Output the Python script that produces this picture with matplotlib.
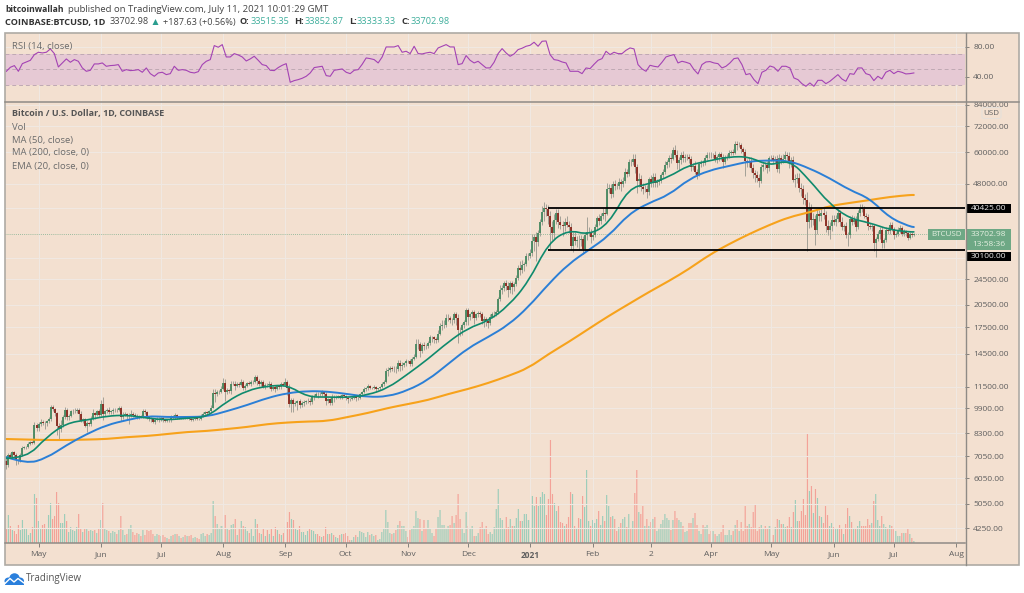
'''

BTCUSD daily chart with RSI pane, moving averages and volume

'''
import datetime as dt

import numpy as np
import matplotlib
matplotlib.use('Agg')
import matplotlib.pyplot as plt
import matplotlib.dates as mdates
from matplotlib.path import Path
from matplotlib.patches import Rectangle, FancyBboxPatch, Ellipse, Polygon, PathPatch
from matplotlib.ticker import FixedLocator, FixedFormatter, NullLocator

plt.rcParams['font.family'] = ['Open Sans', 'DejaVu Sans']

W, H = 1024, 593
BG = '#f3e0d0'
GRID = '#f0e8e2'
BORDER = '#aeaaa4'
TEXT = '#5f5f5f'
UP, DOWN = '#4a8a63', '#8a2a20'
VOL_UP, VOL_DOWN = '#9ccdba', '#f3a298'

START = dt.date(2020, 4, 15)

# daily closes, one row per month, Apr 15 2020 to Jul 11 2021
closes = [
    6630,7100,7040,7260,7130,6860,6840,7130,7490,7510,7540,7700,7790,7750,8780,8620,
    8830,8970,8900,8890,9030,9160,9990,9810,9540,8730,8570,8820,9310,9790,9320,9380,9670,9730,9730,9780,9510,9060,9170,8730,8900,8840,9200,9570,9430,9700,9440,
    10200,9520,9670,9790,9620,9670,9760,9780,9770,9890,9280,9460,9470,9340,9430,9520,9460,9380,9300,9360,9300,9680,9620,9290,9250,9160,9010,9120,9190,9140,
    9230,9090,9060,9130,9080,9340,9250,9430,9240,9290,9240,9300,9240,9260,9190,9130,9160,9210,9170,9160,9390,9520,9610,9540,9700,9930,11030,10910,11100,11110,11350,
    11800,11070,11230,11190,11740,11770,11600,11760,11680,11880,11400,11570,11780,11770,11860,11910,12290,11970,11730,11860,11520,11680,11650,11770,11330,11470,11330,11540,11480,11710,11650,
    11920,11400,10170,10470,10170,10260,10380,10130,10230,10340,10390,10440,10330,10680,10790,10950,10940,10930,11080,10920,10420,10530,10240,10740,10690,10730,10770,10690,10840,10780,
    10620,10570,10550,10670,10790,10600,10670,10920,11060,11300,11370,11540,11430,11430,11500,11320,11370,11510,11750,11920,12820,12990,13130,13040,13080,13040,13650,13280,13460,13560,13800,
    13760,13550,14020,14150,15590,15590,14830,15480,15330,15300,15700,16290,16340,16080,15970,16720,17660,17790,17820,18680,18710,18420,18370,19150,18730,17160,17130,17730,18190,19700,
    18770,19220,19430,18650,19150,19360,19170,18320,18540,18250,18030,18810,19160,19280,19440,21350,22830,23130,23860,23480,22730,23820,23240,23730,24710,26490,26280,27040,27360,28880,29000,
    29420,32200,33000,31990,33990,36810,39470,40670,40240,38240,35540,34010,37370,39150,36830,36020,35800,36630,35920,35500,31050,32970,32090,32290,32250,32510,30410,33420,34260,34310,33110,
    33540,35510,37660,36950,38290,39260,38870,46450,46530,44840,48000,47460,47400,48580,47930,49150,52130,51550,55950,55840,57420,54090,48890,49700,47040,46170,46430,45240,
    49600,48360,50470,48370,48760,48900,50970,52390,54930,55850,57800,57230,61180,59000,55650,56900,58920,57650,58030,58100,57370,54090,54340,52300,51300,55060,55840,55780,57620,58770,58740,
    58720,58970,57060,58200,59130,58020,55950,58080,58100,59770,60000,59860,63580,62960,63200,61400,60060,56250,55700,56500,53800,51700,51190,50100,49070,54030,55040,54880,53570,57700,
    57800,56570,57160,53200,57480,56410,57380,58860,58280,55860,56750,49500,49670,49920,46760,46430,43540,42850,36690,40530,37300,37500,34700,38800,38320,39240,38530,35660,34610,35660,37340,
    36690,37570,39190,36850,35530,35800,33570,33400,37390,36690,37340,35550,39020,40530,40160,38350,38090,35820,35490,35600,31600,32500,33690,34660,31590,32280,34700,34500,35910,35040,
    33550,33810,34680,35290,33700,34220,33880,32880,33810,33510,33703,
]
first_open = 6840

# wick lengths above and below the body, tenths of a percent
wick_up = [
    20,15,15,10,10,10,15,12,10,10,8,10,10,10,25,15,
    15,25,15,15,10,15,10,15,10,10,25,30,10,20,15,10,10,10,15,10,15,20,10,10,15,10,15,25,10,10,15,
    30,50,10,15,20,10,15,10,10,15,15,20,15,10,15,25,10,10,15,10,10,20,20,10,10,5,10,10,10,10,
    10,10,8,8,8,12,8,12,8,8,8,8,8,8,8,5,5,8,5,5,15,10,10,10,10,20,30,30,15,15,20,
    40,30,15,10,20,15,15,15,10,20,15,15,10,15,20,10,20,15,15,15,15,15,10,15,10,10,15,12,10,15,15,
    30,10,30,15,15,15,10,15,15,15,10,15,15,15,15,15,15,15,15,10,15,10,10,15,10,10,10,10,10,10,
    10,10,8,8,10,8,8,12,10,15,8,15,10,8,10,8,5,8,15,15,25,15,15,15,15,15,20,15,20,10,15,
    10,15,15,25,30,30,15,15,20,15,10,20,10,10,15,25,20,35,30,25,30,15,15,20,15,25,20,15,15,20,
    15,10,15,15,10,15,15,15,20,15,15,20,15,15,15,15,35,20,15,20,25,15,15,15,25,25,50,40,15,25,15,
    30,50,20,40,20,20,40,40,25,30,40,40,40,30,25,40,25,30,45,30,30,35,40,30,35,30,25,25,110,30,20,
    20,20,20,30,20,30,30,40,30,30,20,25,20,30,25,25,30,20,20,25,30,35,20,40,30,30,25,25,
    20,30,30,30,20,20,20,20,30,20,20,30,20,30,30,20,20,30,20,20,20,20,25,40,20,20,20,20,20,20,20,
    20,15,30,15,15,20,25,15,20,20,15,20,20,25,20,15,15,20,20,25,25,25,25,30,25,25,15,20,25,15,
    15,20,20,30,30,25,30,30,20,30,25,30,35,40,40,35,25,30,60,45,30,40,30,40,30,30,40,30,45,30,30,
    30,25,25,20,30,15,25,20,25,30,25,25,25,30,25,20,20,20,20,15,15,20,25,25,25,20,25,25,25,20,
    15,15,20,20,15,20,15,10,15,15,10,
]
wick_down = [
    30,10,10,10,30,30,20,10,10,8,8,8,10,10,5,20,
    20,10,15,40,15,10,10,10,15,60,70,20,15,15,20,20,10,15,15,15,40,10,15,10,40,10,15,10,30,10,15,
    10,40,15,10,15,10,20,10,15,10,25,10,10,25,50,15,15,10,15,15,10,10,10,15,25,20,10,20,10,15,
    10,12,8,8,10,8,10,8,10,10,5,8,8,8,8,10,8,8,8,5,8,8,10,10,8,10,5,55,15,15,10,
    10,60,10,15,20,10,30,10,15,10,15,15,10,10,15,10,10,25,15,15,10,15,15,20,15,10,20,10,15,10,10,
    10,50,20,50,50,15,50,20,15,15,15,10,20,10,15,10,25,10,10,20,30,15,10,10,30,10,10,10,10,10,
    15,30,10,8,8,15,10,10,15,5,8,10,10,8,10,20,5,8,8,15,8,30,15,15,20,30,15,35,25,20,15,
    10,15,15,10,5,40,40,15,25,20,15,15,30,25,20,15,10,30,20,15,20,20,30,15,50,90,40,30,15,20,
    50,20,25,40,15,15,20,25,45,30,35,15,10,15,15,10,15,30,20,30,45,20,50,30,15,15,40,25,35,15,30,
    20,15,70,130,30,20,20,60,50,50,145,50,40,30,45,30,70,40,15,40,30,45,30,40,60,40,35,15,30,30,40,
    20,15,20,30,20,20,50,10,30,30,20,30,20,20,45,20,15,20,15,25,20,40,80,40,30,30,20,40,
    20,30,25,30,30,20,15,20,15,20,30,30,10,15,40,50,30,30,25,20,30,30,20,15,30,10,15,20,15,15,20,
    15,15,20,25,30,20,40,15,20,10,15,20,10,30,10,30,25,95,30,30,30,30,50,30,40,15,25,25,30,20,
    25,20,15,20,25,20,15,20,25,40,30,20,50,25,30,50,45,35,182,40,50,35,100,30,35,35,25,40,30,60,30,
    20,25,20,30,20,30,20,70,20,20,15,30,20,15,20,15,15,30,15,30,50,90,15,30,30,35,15,20,20,15,
    30,15,15,20,15,15,15,15,10,15,5,
]

# daily volume, thousand BTC
volumes = [
    15,28,17,13,12,9,18,13,23,14,15,8,10,16,49,45,
    22,15,18,19,14,28,40,24,27,51,40,20,20,29,22,11,16,13,12,16,29,15,11,14,14,12,13,12,13,10,14,
    23,40,14,13,12,10,12,11,9,13,27,13,8,9,14,18,11,8,10,9,7,13,8,13,12,13,9,7,9,8,
    7,8,6,5,4,7,8,9,9,7,5,6,8,7,7,8,5,6,5,4,9,10,7,9,8,10,42,27,19,15,17,
    17,28,14,13,18,19,24,8,14,22,17,16,12,10,14,7,24,19,10,9,14,7,13,9,15,7,16,13,9,8,10,
    16,21,31,24,23,15,13,17,11,11,8,12,14,13,12,9,9,7,6,7,16,9,9,10,8,6,5,8,9,9,
    10,7,3,3,6,8,6,12,11,10,6,11,8,9,7,8,3,4,11,14,33,21,10,9,10,13,18,22,17,17,12,
    6,13,14,17,32,25,24,12,23,14,23,15,10,7,14,26,33,18,18,14,17,18,27,20,28,49,24,14,10,31,
    17,15,17,7,7,10,16,21,15,17,9,11,9,16,34,54,25,23,15,26,16,24,17,17,25,34,22,22,29,29,23,
    23,47,37,46,37,46,51,49,28,44,103,49,40,32,37,21,20,17,19,26,51,49,17,14,25,24,47,36,73,22,17,
    23,20,24,32,18,27,22,48,37,26,27,24,12,16,20,24,26,16,29,14,22,50,73,31,29,37,17,24,
    17,21,24,26,12,15,19,23,29,25,23,13,23,32,25,23,21,17,11,12,20,20,25,30,18,12,9,18,16,18,9,
    12,12,9,7,9,11,18,8,8,13,8,12,18,23,12,21,12,37,17,19,16,31,39,12,16,18,14,17,15,17,
    17,8,16,24,23,19,19,16,17,26,16,31,43,22,22,32,44,28,110,52,57,30,54,45,27,26,20,37,28,17,20,
    16,14,15,18,14,9,19,35,27,21,15,15,17,22,17,17,17,24,18,20,42,49,23,17,27,19,16,15,18,17,
    14,12,7,7,10,10,10,14,9,5,2,
]

# RSI (14), read every two days
rsi_values = [
    47.5,52.8,55,47.5,57.6,59.8,62,69.5,72.6,71.7,72.6,77,70.8,53.2,58.5,63.8,59.4,62.9,60.7,51.9,
    47.5,48.8,57.2,57.2,58.5,54.1,55,55.4,56.3,47.5,49.7,48.4,48.8,49.7,46.2,51.9,44.4,40.9,45.3,46.2,
    43.1,44.4,54.1,48.8,49.7,48.8,46.2,45.3,47,56.3,60.7,62.9,81.4,79.2,82.7,66.4,66.4,70.8,69,66.4,
    61.1,63.8,67.3,62,56.3,55,48.8,48.4,52.4,55.4,57.6,33,35.2,36.5,38.3,40.9,45.3,52.4,53.2,54.1,
    41.8,40.9,48.8,49.7,50.6,46.2,44.4,48.8,49.7,56.7,65.1,64.2,62.9,58.5,66.4,79.6,79.6,79.6,81.4,72.6,
    73.9,70.8,80.5,70.8,70.4,71.7,72.6,70.8,78.3,80.5,82.7,79.6,79.6,56.3,57.6,68.2,62,58.5,60.7,56.3,
    51.9,52,59.4,70.8,77.4,71.7,67.3,70.4,76.1,77.9,80.5,81.8,85.8,80.5,87.1,87.5,69.5,62.9,62,59.8,
    58.5,47.5,47.5,47.5,44.4,51.9,51,56.7,62,64.2,73.9,69.5,72.6,70.8,70.8,75.2,78.3,77,56.3,50.6,
    47.5,55.4,54.1,53.2,59.4,66.4,68.2,69.5,58.5,60.7,59.4,57.6,49.7,44,56.3,59.8,60.3,58.5,57.6,51.9,
    54.1,58.5,64.2,65.1,56.3,43.1,44.4,36.5,31.2,46.2,48.8,54.5,52.8,47.5,54.1,54.1,51.9,38.7,36.5,31.2,
    27.7,32.1,27.7,35.6,35.6,31.2,34.3,38.7,43.1,37.4,34.3,44.4,43.5,51.9,51.9,44.4,42.7,35.2,40.9,37.4,
    46.2,48.8,44.4,47.5,46.2,44,44.4,45.3,
]

# moving averages, read every ten days plus the last bar
ma50 = [
    7015,6680,6965,7635,8250,8790,9105,9365,9300,9300,9330,9700,10120,10640,11010,11170,
    11130,10935,10710,10745,11220,12070,13510,15120,16340,17780,20180,23730,27320,30140,33280,38860,
    42000,44420,49700,52800,54500,56300,56700,56500,53600,50030,45990,43360,37800,35580,35450,
]
ema20 = [
    6960,6960,8080,8910,9105,9365,9430,9230,9105,9230,9300,10400,11220,11570,11650,10710,
    10710,10670,10860,11400,12590,13990,15770,17400,18290,20330,24070,31680,34770,33520,36210,46660,
    48000,50450,54870,56500,58150,58150,54500,57000,49360,41690,37650,36520,34770,34250,34250,
]
ma200 = [
    7965,7935,7910,7910,7935,7965,8075,8135,8250,8370,8430,8550,8670,8850,8950,9010,
    9040,9300,9565,9910,10190,10480,10935,11330,11815,12420,13130,14490,15770,17300,18950,20610,
    22420,24240,26380,29110,31450,33750,35960,38040,39300,41100,42000,42860,43820,44420,44420,
]

price_ticks = [84000, 72000, 60000, 48000, 24500, 20500, 17500, 14500, 11500, 9900, 8300, 7050, 6050, 5050, 4250]
extra_grid = [40500, 28500]
rsi_ticks = [80, 40]
month_ticks = [
    (2020, 5, 1), (2020, 6, 1), (2020, 7, 1), (2020, 8, 1), (2020, 9, 1), (2020, 10, 1), (2020, 11, 1),
    (2020, 12, 1), (2021, 1, 1), (2021, 2, 1), (2021, 3, 2), (2021, 4, 1), (2021, 5, 1), (2021, 6, 1),
    (2021, 7, 1), (2021, 8, 1),
]
month_labels = ['May', 'Jun', 'Jul', 'Aug', 'Sep', 'Oct', 'Nov', 'Dec', '2021', 'Feb', '2', 'Apr', 'May', 'Jun', 'Jul', 'Aug']

LAST_PRICE = 33702.98
RESIST, SUPPORT = 40425, 30100
LEVEL_START = dt.date(2021, 1, 10)


def px_axes(fig, left, top, right, bottom):
    return fig.add_axes([left / W, 1 - bottom / H, (right - left) / W, (bottom - top) / H])


def pane_style(ax, xticks):
    ax.set_facecolor('none')
    for side in ax.spines:
        ax.spines[side].set_visible(False)
    ax.yaxis.tick_right()
    ax.tick_params(axis='y', which='both', length=3, width=0.7, color='#85827d', labelcolor=TEXT,
                   labelsize=6.0, pad=3)
    ax.xaxis.set_major_locator(FixedLocator(xticks))
    ax.xaxis.set_minor_locator(NullLocator())
    ax.grid(True, axis='both', which='major', color=GRID, linewidth=0.8)
    ax.set_axisbelow(True)


def draw_candles(ax, x, opens, closes_, highs, lows):
    rising = closes_ >= opens
    ax.vlines(x, lows, highs, color='#a3a197', linewidth=0.7, capstyle='butt', zorder=2)
    ax.vlines(x[rising], opens[rising], closes_[rising], color=UP, linewidth=1.35, capstyle='butt', zorder=3)
    ax.vlines(x[~rising], closes_[~rising], opens[~rising], color=DOWN, linewidth=1.35, capstyle='butt', zorder=3)


def smooth_line(ax, x, y, **kw):
    # curve through the readings, on a log price axis
    y = np.array(y, dtype=float)
    verts = [(x[0], y[0])]
    codes = [Path.MOVETO]
    for i in range(1, len(x) - 1):
        verts += [(x[i], y[i]), ((x[i] + x[i + 1]) / 2, np.sqrt(y[i] * y[i + 1]))]
        codes += [Path.CURVE3, Path.CURVE3]
    verts.append((x[-1], y[-1]))
    codes.append(Path.LINETO)
    ax.add_patch(PathPatch(Path(verts, codes), fill=False, capstyle='round', **kw))


def header(ov):
    ov.text(5, 9.5, 'bitcoinwallah', fontsize=6.2, fontweight='bold', color='#333333', va='center')
    ov.text(68, 9.5, 'published on TradingView.com, July 11, 2021 10:01:29 GMT', fontsize=6.8, color='#444444', va='center')
    ov.text(5, 22, 'COINBASE:BTCUSD, 1D', fontsize=6.6, fontweight='bold', color='#333333', va='center')
    ov.text(110, 22, '33702.98', fontsize=6.6, color='#444444', va='center')
    ov.add_patch(Polygon([(152.5, 25), (158.5, 25), (155.5, 19)], color='#2a9d8f', lw=0))
    ov.text(163, 22, '+187.63 (+0.56%)', fontsize=6.6, color='#444444', va='center')
    for lab, x_lab, val, x_val in [('O:', 240, '33515.35', 251), ('H:', 294, '33852.87', 305),
                                   ('L:', 349, '33333.33', 357), ('C:', 401, '33702.98', 411)]:
        ov.text(x_lab, 22, lab, fontsize=6.6, fontweight='bold', color='#333333', va='center')
        ov.text(x_val, 22, val, fontsize=6.6, color='#3fae9c', va='center')


def overlays(ov):
    # pane borders
    ov.add_patch(Rectangle((5, 33), 1014, 532, fill=False, edgecolor=BORDER, linewidth=1.2))
    ov.plot([5, 1019], [101.5, 101.5], color='#8f8b86', linewidth=1.1)
    ov.plot([5, 965], [543, 543], color='#8f8b86', linewidth=1.1)
    ov.plot([965.5, 965.5], [33, 565], color='#8f8b86', linewidth=1.0)

    for txt, y, weight in [('RSI (14, close)', 46, 'normal'),
                           ('Bitcoin / U.S. Dollar, 1D, COINBASE', 113.5, 'bold'),
                           ('Vol', 127, 'normal'), ('MA (50, close)', 140, 'normal'),
                           ('MA (200, close, 0)', 153, 'normal'), ('EMA (20, close, 0)', 166, 'normal')]:
        size = 6.5 if weight == 'bold' else 6.8
        ov.text(11.5, y, txt, fontsize=size, fontweight=weight, color='#555555' if weight == 'bold' else '#6b6b6b', va='center')

    ov.add_patch(FancyBboxPatch((982, 107.5), 19, 11, boxstyle='round,pad=0,rounding_size=2',
                                facecolor=BG, edgecolor='#e6e0da', linewidth=0.8))
    ov.text(991.5, 113.2, 'USD', fontsize=5.8, color=TEXT, ha='center', va='center')

    # level boxes and last price tag
    ov.add_patch(Rectangle((966, 203.8), 45, 9.5, color='black', lw=0))
    ov.text(988.5, 208.6, '40425.00', fontsize=6.0, color='#e8e8e8', ha='center', va='center')
    ov.add_patch(Rectangle((966, 251.5), 45, 9.5, color='black', lw=0))
    ov.text(988.5, 256.2, '30100.00', fontsize=6.0, color='#e8e8e8', ha='center', va='center')
    ov.add_patch(Rectangle((966, 228.8), 45, 21.5, color='#6ea885', lw=0))
    ov.text(988.5, 234.2, '33702.98', fontsize=6.0, color='#e4efe0', ha='center', va='center')
    ov.text(988.5, 244.5, '13:58:36', fontsize=6.0, color='#e4efe0', ha='center', va='center')
    ov.add_patch(Rectangle((928, 229), 37, 11, color='#6ea885', lw=0))
    ov.text(946.5, 234.5, 'BTCUSD', fontsize=5.8, color='#e4efe0', ha='center', va='center')

    # logo
    blue = '#2a7fdc'
    ov.add_patch(Ellipse((14.5, 578.5), 10.5, 10.5, color=blue, lw=0))
    ov.add_patch(Ellipse((8.5, 581), 8, 7, color=blue, lw=0))
    ov.add_patch(Ellipse((20, 581), 8, 7, color=blue, lw=0))
    ov.add_patch(Rectangle((5, 581), 19, 4, color=blue, lw=0))
    ov.plot([5, 10, 14, 18, 24], [583.5, 578.5, 582, 578.5, 583], color='white', linewidth=1.0)
    ov.text(26, 579, 'TradingView', fontsize=7.0, color='#555555', va='center')


def main():
    fig = plt.figure(figsize=(W / 100, H / 100), dpi=100, facecolor='white')

    back = fig.add_axes([0, 0, 1, 1])
    back.set_xlim(0, W)
    back.set_ylim(H, 0)
    back.axis('off')
    back.add_patch(Rectangle((5, 33), 1014, 532, color=BG, lw=0))

    n = len(closes)
    days = mdates.date2num(START) + np.arange(n)
    close_arr = np.array(closes, dtype=float)
    open_arr = np.r_[first_open, close_arr[:-1]]
    high_arr = np.maximum(open_arr, close_arr) * (1 + np.array(wick_up) / 1000)
    low_arr = np.minimum(open_arr, close_arr) * (1 - np.array(wick_down) / 1000)

    tick_days = [mdates.date2num(dt.date(*t)) for t in month_ticks]
    xlim = (mdates.date2num(dt.date(2020, 5, 1)) - 16.69, mdates.date2num(dt.date(2021, 8, 1)) + 4.48)

    # RSI pane
    ax_rsi = px_axes(fig, 5, 33, 965, 101)
    pane_style(ax_rsi, tick_days)
    ax_rsi.set_xlim(xlim)
    ax_rsi.set_ylim(8.3, 98)
    ax_rsi.set_xticklabels([])
    ax_rsi.tick_params(axis='x', length=0)
    ax_rsi.set_yticks(rsi_ticks)
    ax_rsi.set_yticklabels(['%.2f' % v for v in rsi_ticks])
    ax_rsi.axhspan(30, 70, facecolor='#e6c9d4', edgecolor='none', zorder=1)
    for lvl in (70, 50, 30):
        ax_rsi.axhline(lvl, color='#bfa9b4', linewidth=0.7, dashes=(4, 3), zorder=2)
    rsi_days = np.linspace(days[0], days[-1], len(rsi_values))
    ax_rsi.plot(rsi_days, rsi_values, color='#a443b4', linewidth=0.8, zorder=3)

    # volume sits under the candles in the price pane
    ax_vol = px_axes(fig, 5, 102, 965, 543)
    ax_vol.set_xlim(xlim)
    ax_vol.set_ylim(0, 441)
    ax_vol.axis('off')
    vol_colors = [VOL_UP if c >= o else VOL_DOWN for o, c in zip(open_arr, close_arr)]
    bars = ax_vol.bar(days, volumes, width=0.58, color=vol_colors, linewidth=0)
    for b in bars:
        b.set_snap(False)

    # price pane
    ax = px_axes(fig, 5, 102, 965, 543)
    pane_style(ax, tick_days)
    ax.set_xlim(xlim)
    ax.set_yscale('log')
    ax.set_ylim(3830, 85500)
    ax.yaxis.set_major_locator(FixedLocator(price_ticks))
    ax.yaxis.set_major_formatter(FixedFormatter(['%.2f' % v for v in price_ticks]))
    ax.yaxis.set_minor_locator(NullLocator())
    ax.xaxis.set_major_formatter(FixedFormatter(month_labels))
    ax.tick_params(axis='x', length=3, width=0.7, color='#85827d', labelcolor=TEXT, labelsize=6.0, pad=3)
    for lab, txt in zip(ax.get_xticklabels(), month_labels):
        if txt == '2021':
            lab.set_fontweight('bold')
    for lvl in extra_grid:
        ax.axhline(lvl, color=GRID, linewidth=0.8, zorder=0)

    ax.axhline(LAST_PRICE, color='#7fb08f', linewidth=0.6, dashes=(1, 1.5), zorder=1)
    draw_candles(ax, days, open_arr, close_arr, high_arr, low_arr)

    ma_days = np.r_[days[0] + 10 * np.arange(46), days[-1]]
    smooth_line(ax, ma_days, ma200, edgecolor='#f7a21b', linewidth=1.5, zorder=4)
    smooth_line(ax, ma_days, ma50, edgecolor='#2b7fd6', linewidth=1.4, zorder=4)
    smooth_line(ax, ma_days, ema20, edgecolor='#0f8a6d', linewidth=1.2, zorder=5)

    level_x = [mdates.date2num(LEVEL_START), xlim[1]]
    ax.plot(level_x, [RESIST, RESIST], color='black', linewidth=1.3, zorder=6, solid_capstyle='butt')
    ax.plot(level_x, [SUPPORT, SUPPORT], color='black', linewidth=1.3, zorder=6, solid_capstyle='butt')

    ov = fig.add_axes([0, 0, 1, 1])
    ov.set_xlim(0, W)
    ov.set_ylim(H, 0)
    ov.axis('off')
    header(ov)
    overlays(ov)

    plt.savefig('out.png', dpi=100)


if __name__ == '__main__':
    main()
